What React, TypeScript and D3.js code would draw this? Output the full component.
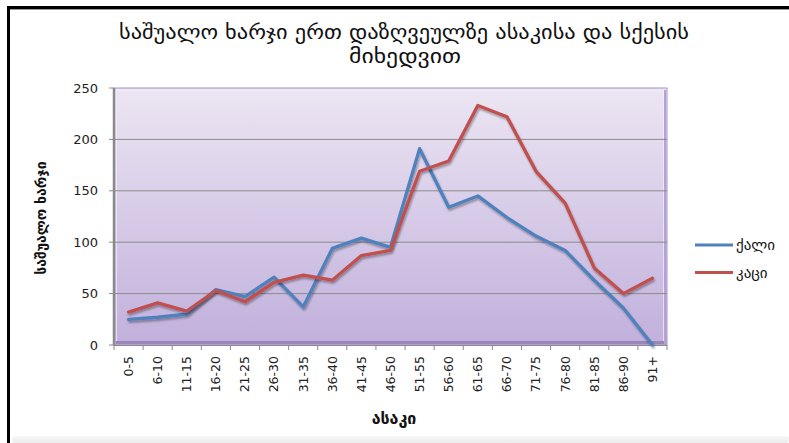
import React from "react";
import * as d3 from "d3";

// ასაკობრივი ჯგუფები
const ageGroups = [
  "0-5", "6-10", "11-15", "16-20", "21-25", "26-30", "31-35", "36-40", "41-45", "46-50",
  "51-55", "56-60", "61-65", "66-70", "71-75", "76-80", "81-85", "86-90", "91+",
];

// ქალი
const female = [25, 27, 30, 54, 47, 66, 37, 94, 104, 95, 191, 134, 145, 124, 106, 92, 63, 36, 0];
// კაცი
const male = [32, 41, 33, 53, 42, 61, 68, 63, 87, 92, 169, 179, 233, 222, 169, 138, 75, 50, 65];

const yTicks = [0, 50, 100, 150, 200, 250];

const W = 789;
const H = 443;
const plot = { left: 114, right: 667, top: 88, bottom: 345 };

const App = () => {
  const x = d3.scaleBand().domain(ageGroups).range([plot.left, plot.right]).padding(0);
  const y = d3.scaleLinear().domain([0, 250]).range([plot.bottom, plot.top]);
  const cx = (d: string) => (x(d) as number) + x.bandwidth() / 2;

  const line = d3
    .line<number>()
    .x((_, i) => cx(ageGroups[i]))
    .y((v) => y(v));

  const series = [
    { name: "ქალი", values: female, color: "#4F81BD" },
    { name: "კაცი", values: male, color: "#C0504D" },
  ];

  const geo = "'DejaVu Sans', sans-serif";

  return (
    <svg width={W} height={H} style={{ position: "absolute", left: 0, top: 0, background: "#fff" }}>
      <defs>
        <linearGradient id="plotBg" x1="0" y1="0" x2="0" y2="1">
          <stop offset="0%" stopColor="#ece6f3" />
          <stop offset="100%" stopColor="#c1b0dc" />
        </linearGradient>
        <linearGradient id="foot" x1="0" y1="0" x2="0" y2="1">
          <stop offset="0%" stopColor="#f7f7f7" />
          <stop offset="100%" stopColor="#ececec" />
        </linearGradient>
        <filter id="shadow" x="-5%" y="-5%" width="110%" height="110%">
          <feGaussianBlur in="SourceAlpha" stdDeviation="1" />
          <feOffset dx="1" dy="1.5" result="b" />
          <feComponentTransfer>
            <feFuncA type="linear" slope="0.35" />
          </feComponentTransfer>
          <feMerge>
            <feMergeNode />
            <feMergeNode in="SourceGraphic" />
          </feMerge>
        </filter>
      </defs>

      {/* ჩარჩო */}
      <line x1={8.5} x2={8.5} y1={6} y2={H} stroke="#000" strokeWidth={3} />
      <line x1={7} x2={W} y1={7.5} y2={7.5} stroke="#000" strokeWidth={3} />
      <line x1={10} x2={W} y1={9.5} y2={9.5} stroke="#999" strokeWidth={1} />
      <rect x={12} y={436} width={W - 12} height={7} rx={3} fill="url(#foot)" />

      {/* სათაური */}
      <text
        x={404}
        y={39}
        textAnchor="middle"
        fontFamily={geo}
        fontSize={19}
        textLength={570}
        lengthAdjust="spacingAndGlyphs"
        fill="#111"
      >
        საშუალო ხარჯი ერთ დაზღვეულზე ასაკისა და  სქესის
      </text>
      <text
        x={405}
        y={63}
        textAnchor="middle"
        fontFamily={geo}
        fontSize={19}
        textLength={112}
        lengthAdjust="spacingAndGlyphs"
        fill="#111"
      >
        მიხედვით
      </text>

      {/* ნახაზის არე */}
      <rect
        x={plot.left}
        y={plot.top}
        width={plot.right - plot.left}
        height={plot.bottom - plot.top}
        fill="url(#plotBg)"
        stroke="#a792cb"
      />
      <rect
        x={plot.left + 2.5}
        y={plot.top + 2.5}
        width={plot.right - plot.left - 6}
        height={plot.bottom - plot.top - 6}
        fill="none"
        stroke="#f4f0f8"
        strokeOpacity={0.7}
      />
      <line x1={plot.left + 2} x2={plot.right - 1} y1={plot.bottom - 2.5} y2={plot.bottom - 2.5} stroke="#9a86bd" strokeWidth={3} />
      <line x1={plot.right - 2} x2={plot.right - 2} y1={plot.top + 2} y2={plot.bottom - 1} stroke="#b4a3d2" strokeWidth={2} />

      {/* ბადე */}
      {yTicks
        .filter((t) => t > 0 && t < 250)
        .map((t) => (
          <line key={t} x1={plot.left} x2={plot.right} y1={y(t)} y2={y(t)} stroke="#8c8c8c" strokeWidth={1} />
        ))}

      {/* Y ღერძი */}
      <line x1={plot.left} x2={plot.left} y1={plot.top} y2={plot.bottom} stroke="#8a8a8a" strokeWidth={2.5} />
      {yTicks.map((t) => (
        <g key={t}>
          <line x1={plot.left - 5} x2={plot.left} y1={y(t)} y2={y(t)} stroke="#8a8a8a" />
          <text x={98} y={y(t)} dy="0.35em" textAnchor="end" fontFamily="'DejaVu Sans', sans-serif" fontSize={13} fill="#222">
            {t}
          </text>
        </g>
      ))}

      {/* X ღერძი */}
      <line x1={plot.left} x2={plot.right} y1={plot.bottom + 0.5} y2={plot.bottom + 0.5} stroke="#8a8a8a" />
      {ageGroups.map((g) => (
        <line key={"t" + g} x1={x(g)} x2={x(g)} y1={plot.bottom} y2={plot.bottom + 5} stroke="#8a8a8a" />
      ))}
      <line x1={plot.right} x2={plot.right} y1={plot.bottom} y2={plot.bottom + 5} stroke="#8a8a8a" />
      {ageGroups.map((g) => (
        <text
          key={"l" + g}
          transform={`translate(${cx(g)},${plot.bottom + 11}) rotate(-90)`}
          dy="0.35em"
          textAnchor="end"
          fontFamily="'DejaVu Sans', sans-serif"
          fontSize={12.5}
          fill="#222"
        >
          {g}
        </text>
      ))}

      {/* ხაზები */}
      {series.map((s) => (
        <path
          key={s.name}
          d={line(s.values) ?? ""}
          fill="none"
          stroke={s.color}
          strokeWidth={3.3}
          strokeLinejoin="round"
          strokeLinecap="round"
          filter="url(#shadow)"
        />
      ))}

      {/* ღერძების სათაურები */}
      <text
        transform="translate(46,218) rotate(-90)"
        textAnchor="middle"
        fontFamily={geo}
        fontSize={14}
        fontWeight="bold"
        fill="#111"
      >
        საშუალო ხარჯი
      </text>
      <text x={394} y={424} textAnchor="middle" fontFamily={geo} fontSize={16} fontWeight="bold" fill="#111">
        ასაკი
      </text>

      {/* ლეგენდა */}
      {series.map((s, i) => (
        <g key={"lg" + s.name} transform={`translate(0,${245 + i * 27.5})`}>
          <line x1={695} x2={733} y1={0} y2={0} stroke={s.color} strokeWidth={3} />
          <text x={736} y={0} dy="0.35em" fontFamily={geo} fontSize={15} fill="#111">
            {s.name}
          </text>
        </g>
      ))}
    </svg>
  );
};

export default App;
